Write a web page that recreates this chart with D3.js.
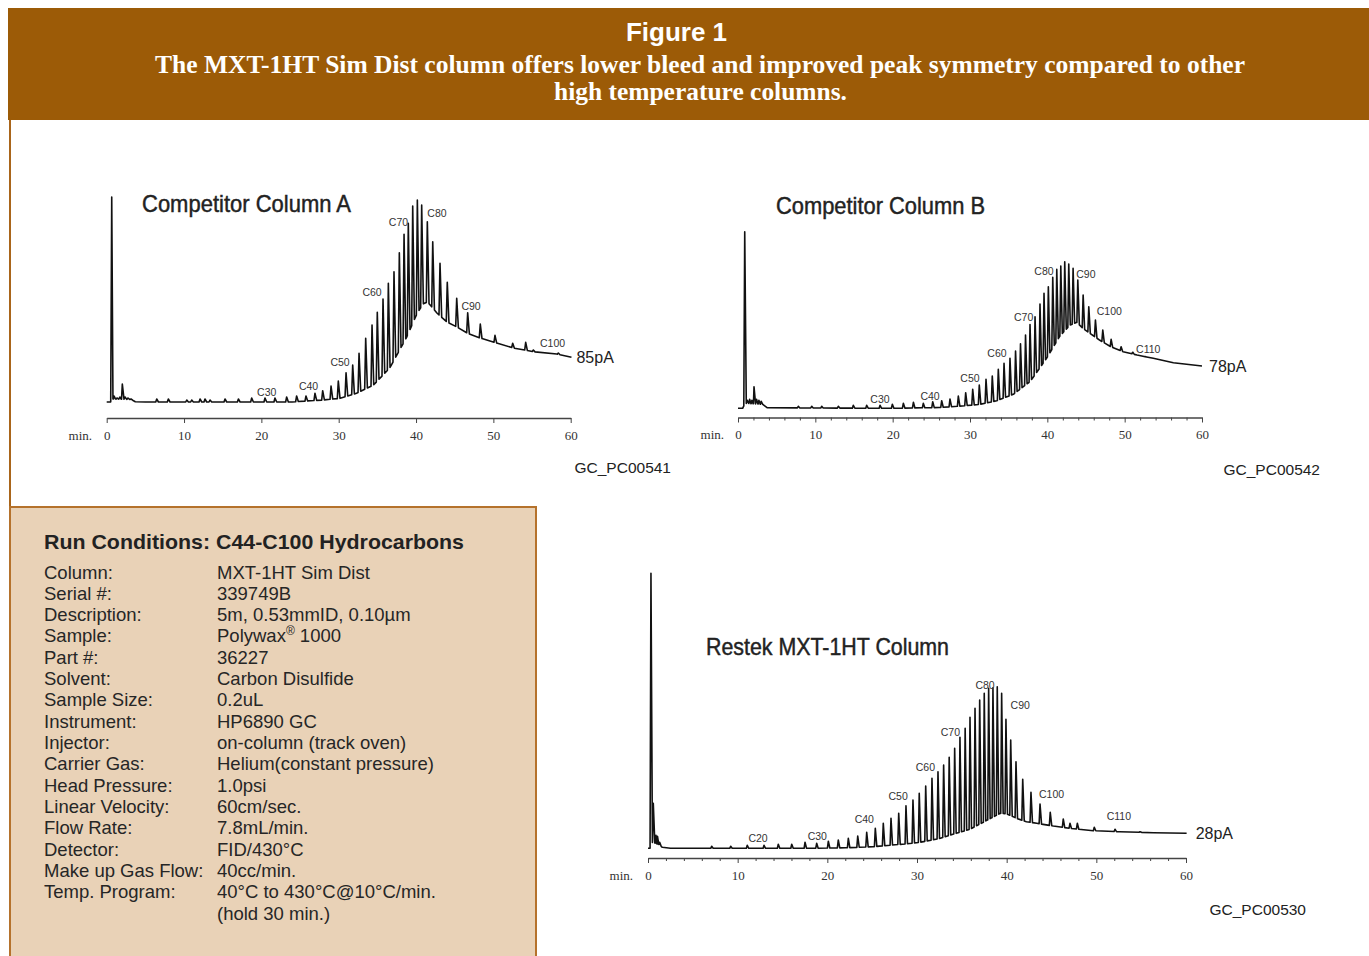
<!DOCTYPE html>
<html><head><meta charset="utf-8">
<script src="https://cdn.jsdelivr.net/npm/d3@7"></script>
<style>
html,body{margin:0;padding:0;background:#fff;}
svg{display:block;}
</style></head><body>
<svg id="fig" width="1369" height="956"></svg>
<script>
// ---------------- DATA ----------------
const headerTitle = "Figure 1";
const headerLine1 = "The MXT-1HT Sim Dist column offers lower bleed and improved peak symmetry compared to other";
const headerLine2 = "high temperature columns.";

const majorTicks = [0, 10, 20, 30, 40, 50, 60];
const tickLabels = ["0", "10", "20", "30", "40", "50", "60"];
const minorTicks = [2,4,6,8,12,14,16,18,22,24,26,28,32,34,36,38,42,44,46,48,52,54,56,58];

// Competitor Column A  (time in min, response in relative units above baseline)
const peakTimeA = [0.65,0.94,1.33,1.7,2.02,2.37,2.75,3.14,
  6.47,7.97,10.35,10.99,12.07,12.71,13.36,15.30,17.03,18.75,20.47,21.76,23.27,24.56,
  25.77,26.93,27.93,29.01,29.95,30.95,31.81,32.63,33.49,34.31,34.99,35.73,36.42,37.15,37.84,38.45,39.00,39.57,40.17,40.73,41.46,42.16,43.10,44.04,45.26,46.68,48.31,50.21,52.50,54.18,55.17,58.40];
const peakHeightA = [205,6,4,5,18,5,4,3,
  3,3,2,2,3,3,2,3,3,4,4,4,5,6,
  6,8.7,11.3,16,21,29.3,37,48.7,63.7,77,89.7,103,118.7,130.3,149.3,167.7,178.7,196,202,197,180.3,160.3,138.7,119.7,103.7,89.3,78,66.7,58.7,59.7,52,49];
const baseTimeA  = [0,0.5,0.8,3.2,3.7,5,24,25.8,28,30.2,32.3,34.5,36.6,38.8,40.1,40.9,41.5,42.7,44.0,45.3,46.6,48.3,50.4,52.6,55.2,58.2,60.1];
const baseLevelA = [0,0,3,2.5,0.3,0,0,1,2,3.7,8.7,17,34,65,88,98,100,89,80,75,69,64,59,54,50.3,48,44.7];
const labelNameA  = ["C30","C40","C50","C60","C70","C80","C90","C100"];
const labelTimeA  = [20.69,26.10,30.17,34.31,37.73,42.71,47.11,57.65];
const labelLevelA = [9.3,15.3,39.3,110,179.3,189,96,59];

// Competitor Column B
const peakTimeB = [0.87,1.2,1.5,1.8,2.07,2.4,2.7,3.0,
  7.80,9.53,10.82,12.97,14.91,16.64,18.37,19.96,21.38,22.68,
  23.96,25.18,26.34,27.41,28.49,29.44,30.35,31.20,32.07,32.88,33.66,34.40,35.17,35.89,36.53,37.18,37.76,38.41,39.05,39.57,40.13,40.70,41.22,41.74,42.25,42.77,43.33,43.94,44.63,45.36,46.22,47.17,48.25,49.54,51.05,52.64];
const peakHeightB = [176.6,8,9,8,21.6,9,8,7,
  2,2,2,2,3,3,3,4,5,6,
  5,6.6,7.6,9.3,12.3,15.6,19,23.3,29,32.3,39,45,50,57.3,64.6,73.3,83.8,91.6,104.3,115,121.6,131,139,142.3,146.6,144.3,140,128.3,113.3,101.6,88.3,78.3,69,61.6,56,51.6];
const baseTimeB  = [0,0.6,0.9,3.2,3.8,20,26,29,31.3,33.45,35.6,37.8,39.9,41.6,42.9,43.8,44.6,45.5,46.8,48.1,49.8,51.6,53.7,56.3,60];
const baseLevelB = [0,0,5,4,0.5,0,0.8,2.3,4,7.5,14,27,50,72,83,86,80,75,68,62,56.6,53.3,50,45.6,42.3];
const labelNameB  = ["C30","C40","C50","C60","C70","C80","C90","C100","C110"];
const labelTimeB  = [18.36,24.83,30.00,33.49,36.93,39.56,44.99,48.01,53.05];
const labelLevelB = [9,12.3,30.3,55,91,136.6,134.3,97.3,59.3];

// Restek MXT-1HT Column
const peakTimeC = [0.33,0.59,0.89,1.06,1.3,
  7.10,9.22,11.07,12.94,14.53,16.03,17.51,18.81,20.11,
  21.22,22.34,23.39,24.39,25.35,26.24,27.10,27.96,28.77,29.55,30.25,30.97,31.67,32.34,32.97,33.59,34.20,34.79,35.37,35.91,36.47,36.99,37.50,37.99,38.47,38.95,39.44,39.92,40.45,41.04,41.79,42.71,43.72,44.86,46.31,47.06,47.88,49.77,52.08,54.87];
const peakHeightC = [275,45,13,12,6,
  2,2,3,3,4,4,6,5,7,
  8.3,10,12.3,16,20,25,30,35,42.6,48.3,55,62.3,70,76.6,83.3,91,100,111,120,131,140,148.3,155,160,160.6,161.6,155,129,108.3,86.6,69,56,44.3,36,29.3,25,25,21,19,16.6];
const baseTimeC  = [0,0.25,0.5,1.2,1.6,2.5,18,22,25.1,28.85,30.3,32.4,34,35.9,37.8,39.3,40,41.1,42.2,43.35,45.2,47.06,49.66,52.6,56.35,60.07];
const baseLevelC = [0,0,6,4,1,0,0,0.5,1.6,4.5,6,9.5,14,19,28,35,34.5,30,26.6,25,22.3,20,17.6,16.6,15.6,15];
const labelNameC  = ["C20","C30","C40","C50","C60","C70","C80","C90","C100","C110"];
const labelTimeC  = [12.27,18.88,24.12,27.90,30.93,33.72,37.59,41.51,45.01,52.51];
const labelLevelC = [9.6,12.3,29,52.3,81,116,163.3,142.6,54,32.3];

// Run conditions
const condTitle = "Run Conditions: C44-C100 Hydrocarbons";
const condLabels = ["Column:","Serial #:","Description:","Sample:","Part #:","Solvent:","Sample Size:","Instrument:","Injector:","Carrier Gas:","Head Pressure:","Linear Velocity:","Flow Rate:","Detector:","Make up Gas Flow:","Temp. Program:",""];
const condValues = ["MXT-1HT Sim Dist","339749B","5m, 0.53mmID, 0.10µm","Polywax® 1000","36227","Carbon Disulfide","0.2uL","HP6890 GC","on-column (track oven)","Helium(constant pressure)","1.0psi","60cm/sec.","7.8mL/min.","FID/430°C","40cc/min.","40°C to 430°C@10°C/min.","(hold 30 min.)"];

// ---------------- DRAWING ----------------
const svg = d3.select("#fig");
const SANS = "'Liberation Sans', Arial, Helvetica, sans-serif";
const SERIF = "'Liberation Serif', 'Times New Roman', serif";
const NARROW = "'Liberation Sans Narrow', 'Arial Narrow', 'Liberation Sans', sans-serif";

// header
svg.append("rect").attr("x", 8).attr("y", 8).attr("width", 1361).attr("height", 112).attr("fill", "#9C5B07");
svg.append("text").attr("x", 676.5).attr("y", 41).attr("text-anchor", "middle")
  .attr("font-family", SANS).attr("font-weight", "bold").attr("font-size", 26).attr("fill", "#fff").text(headerTitle);
svg.append("text").attr("x", 700).attr("y", 73).attr("text-anchor", "middle")
  .attr("font-family", SERIF).attr("font-weight", "bold").attr("font-size", 25).attr("fill", "#fff")
  .attr("textLength", 1090).attr("lengthAdjust", "spacingAndGlyphs").text(headerLine1);
svg.append("text").attr("x", 700.5).attr("y", 100).attr("text-anchor", "middle")
  .attr("font-family", SERIF).attr("font-weight", "bold").attr("font-size", 25).attr("fill", "#fff")
  .attr("textLength", 293).attr("lengthAdjust", "spacingAndGlyphs").text(headerLine2);

// left rule
svg.append("line").attr("x1", 10).attr("x2", 10).attr("y1", 120).attr("y2", 507).attr("stroke", "#A9651A").attr("stroke-width", 2);

// run conditions box
svg.append("rect").attr("x", 10).attr("y", 507).attr("width", 526).attr("height", 470)
  .attr("fill", "#E9D2B7").attr("stroke", "#B5722C").attr("stroke-width", 2);
svg.append("text").attr("x", 44).attr("y", 549).attr("font-family", SANS).attr("font-weight", "bold")
  .attr("font-size", 21).attr("fill", "#222").attr("textLength", 420).attr("lengthAdjust", "spacingAndGlyphs").text(condTitle);
const condG = svg.append("g").attr("font-family", SANS).attr("font-size", 18.5).attr("fill", "#262626");
condLabels.forEach((lab, i) => {
  const y = 578.5 + i * 21.33;
  condG.append("text").attr("x", 44).attr("y", y).text(lab);
  const val = condValues[i];
  const t = condG.append("text").attr("x", 217).attr("y", y);
  if (val.includes("®")) {
    const parts = val.split("®");
    t.append("tspan").text(parts[0]);
    t.append("tspan").attr("font-size", 12).attr("dy", -7).text("®");
    t.append("tspan").attr("dy", 7).text(parts[1]);
  } else t.text(val);
});

// chromatograms
const charts = [
  {pt: peakTimeA, ph: peakHeightA, bt: baseTimeA, bl: baseLevelA, ln: labelNameA, lt: labelTimeA, ll: labelLevelA,
   x0: 106.7, x1: 570.7, baseY: 402, axisY: 418, minor: false, wl: 0.13, wr: 0.22,
   title: "Competitor Column A", titleX: 142, titleY: 212, titleW: 209,
   end: "85pA", endDx: 5, code: "GC_PC00541", codeX: 671, codeY: 472.5, minX: 92},
  {pt: peakTimeB, ph: peakHeightB, bt: baseTimeB, bl: baseLevelB, ln: labelNameB, lt: labelTimeB, ll: labelLevelB,
   x0: 738, x1: 1202, baseY: 408.3, axisY: 417.5, minor: true, wl: 0.12, wr: 0.2,
   title: "Competitor Column B", titleX: 776, titleY: 214, titleW: 209,
   end: "78pA", endDx: 7, code: "GC_PC00542", codeX: 1320, codeY: 474.5, minX: 724},
  {pt: peakTimeC, ph: peakHeightC, bt: baseTimeC, bl: baseLevelC, ln: labelNameC, lt: labelTimeC, ll: labelLevelC,
   x0: 648, x1: 1186, baseY: 848.3, axisY: 858, minor: true, wl: 0.1, wr: 0.17,
   title: "Restek MXT-1HT Column", titleX: 706, titleY: 655, titleW: 243,
   end: "28pA", endDx: 9, code: "GC_PC00530", codeX: 1306, codeY: 914.5, minX: 633}
];

charts.forEach(c => {
  const x = d3.scaleLinear().domain([0, 60]).range([c.x0, c.x1]);
  const y = d3.scaleLinear().domain([0, 300]).range([c.baseY, c.baseY - 300]);
  const base = d3.scaleLinear().domain(c.bt).range(c.bl).clamp(true);
  const g = svg.append("g");

  // title
  g.append("text").attr("x", c.titleX).attr("y", c.titleY).attr("font-family", NARROW)
    .attr("font-size", 24).attr("fill", "#222").attr("stroke", "#222").attr("stroke-width", 0.45)
    .attr("textLength", c.titleW).attr("lengthAdjust", "spacingAndGlyphs").text(c.title);

  // trace points: baseline knots + triangular peaks
  const windows = c.pt.map(t => [t - c.wl, t + c.wr]);
  const pts = [];
  c.bt.forEach((t, i) => { if (!windows.some(w => t > w[0] && t < w[1])) pts.push([t, c.bl[i]]); });
  c.pt.forEach((t, i) => {
    pts.push([t - c.wl, base(t - c.wl)]);
    pts.push([t, Math.max(c.ph[i], base(t))]);
    pts.push([t + c.wr, base(t + c.wr)]);
  });
  pts.sort((a, b) => a[0] - b[0]);
  const line = d3.line().x(d => x(d[0])).y(d => y(d[1]));
  g.append("path").attr("d", line(pts)).attr("fill", "none").attr("stroke", "#111")
    .attr("stroke-width", 1.6).attr("stroke-linejoin", "round");

  // carbon labels
  c.ln.forEach((n, i) => {
    g.append("text").attr("x", x(c.lt[i])).attr("y", y(c.ll[i])).attr("dy", "0.36em")
      .attr("text-anchor", "middle").attr("font-family", SANS).attr("font-size", 10.5)
      .attr("fill", "#333").text(n);
  });

  // end label
  const last = pts[pts.length - 1];
  g.append("text").attr("x", x(last[0]) + c.endDx).attr("y", y(last[1])).attr("dy", "0.36em")
    .attr("font-family", SANS).attr("font-size", 16).attr("fill", "#222").text(c.end);

  // axes
  if (c.minor) {
    const minorAxis = d3.axisBottom(x).tickValues(minorTicks).tickSize(3).tickFormat("");
    const mg = g.append("g").attr("transform", `translate(0,${c.axisY})`).call(minorAxis);
    mg.select(".domain").remove();
    mg.selectAll("line").attr("stroke", "#444");
  }
  const axis = d3.axisBottom(x).tickValues(majorTicks).tickFormat((d, i) => tickLabels[i])
    .tickSize(5).tickSizeOuter(0);
  const ag = g.append("g").attr("transform", `translate(0,${c.axisY})`).call(axis);
  ag.select(".domain").attr("stroke", "#444").attr("stroke-width", 1.5);
  ag.selectAll(".tick line").attr("stroke", "#444");
  ag.selectAll(".tick text").attr("y", 12.5).attr("dy", "0.71em")
    .attr("font-family", SERIF).attr("font-size", 13).attr("fill", "#333");
  g.append("text").attr("x", c.minX).attr("y", c.axisY + 12.5).attr("dy", "0.71em")
    .attr("text-anchor", "end").attr("font-family", SERIF).attr("font-size", 13).attr("fill", "#333").text("min.");

  // code label
  g.append("text").attr("x", c.codeX).attr("y", c.codeY).attr("text-anchor", "end")
    .attr("font-family", SANS).attr("font-size", 15.5).attr("fill", "#222").text(c.code);
});
</script>
</body></html>
